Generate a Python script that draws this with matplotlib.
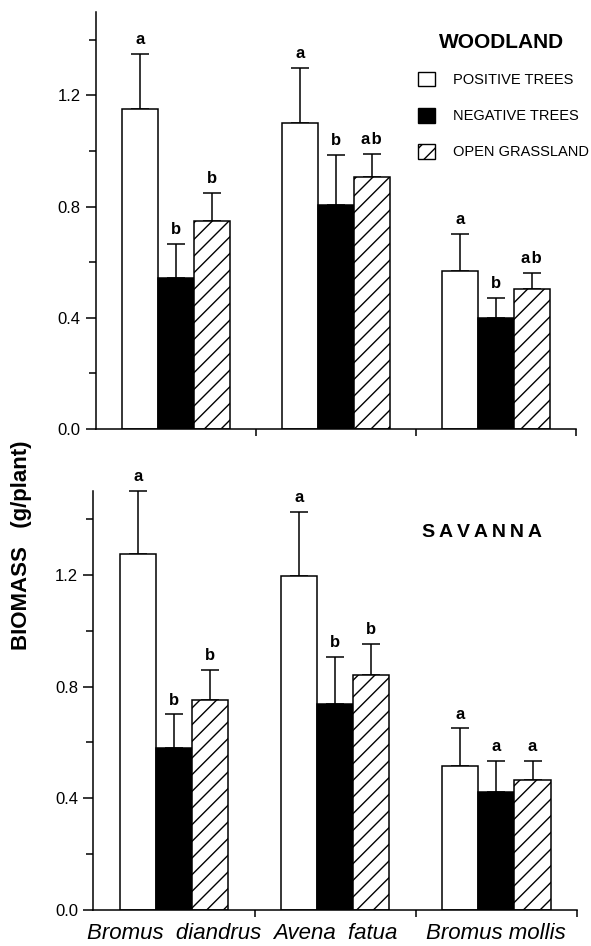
import numpy as np
import matplotlib
matplotlib.use("Agg")
import matplotlib.pyplot as plt
from matplotlib.patches import Patch
from matplotlib import font_manager

plt.rcParams['font.family'] = ['Liberation Sans', 'DejaVu Sans']
plt.rcParams['hatch.linewidth'] = 1.0

species = ["Bromus  diandrus", "Avena  fatua", "Bromus mollis"]
treatments = ["POSITIVE TREES", "NEGATIVE TREES", "OPEN GRASSLAND"]

# woodland
wood_pos = [1.15, 1.10, 0.57]
wood_pos_err = [0.20, 0.20, 0.13]
wood_neg = [0.545, 0.805, 0.40]
wood_neg_err = [0.12, 0.18, 0.07]
wood_open = [0.75, 0.905, 0.505]
wood_open_err = [0.10, 0.085, 0.056]
wood_pos_let = ["a", "a", "a"]
wood_neg_let = ["b", "b", "b"]
wood_open_let = ["b", "a\u200ab", "a\u200ab"]

# savanna
sav_pos = [1.275, 1.195, 0.515]
sav_pos_err = [0.225, 0.23, 0.135]
sav_neg = [0.58, 0.737, 0.423]
sav_neg_err = [0.12, 0.17, 0.11]
sav_open = [0.753, 0.843, 0.467]
sav_open_err = [0.105, 0.11, 0.066]
sav_pos_let = ["a", "a", "a"]
sav_neg_let = ["b", "b", "a"]
sav_open_let = ["b", "b", "a"]

styles = [dict(facecolor="white", hatch=None),
          dict(facecolor="black", hatch=None),
          dict(facecolor="white", hatch="//")]

bw = 0.225
centers = np.arange(3) + 0.5

# narrow font for the legend if we have one
names = {f.name for f in font_manager.fontManager.ttflist}
if "Liberation Sans Narrow" in names:
    leg_prop = {"family": "Liberation Sans Narrow", "size": 12}
else:
    leg_prop = {"family": "Liberation Sans", "size": 10.5}


def panel(ax, series, errs, letters, title, title_xy, spaced=False):
    for i in range(3):
        x = centers + (i - 1) * bw
        ax.bar(x, series[i], width=bw, edgecolor="black", linewidth=1.1,
               zorder=2, **styles[i])
        eb = ax.errorbar(x, series[i], yerr=[np.zeros(3), errs[i]], fmt="none",
                         ecolor="black", elinewidth=1.1, capsize=6.5,
                         capthick=1.1, zorder=1)
        for art in eb.get_children():
            art.set_clip_on(False)
        for xx, top, lab in zip(x, np.add(series[i], errs[i]), letters[i]):
            ax.annotate(lab, (xx, top), xytext=(0, 5), textcoords="offset points",
                        ha="center", va="bottom", fontsize=12, fontweight="bold")
    ax.set_xlim(0, 3)
    ax.set_ylim(0, 1.5)
    ax.spines["top"].set_visible(False)
    ax.spines["right"].set_visible(False)
    ax.spines["left"].set_linewidth(1.1)
    ax.spines["bottom"].set_linewidth(1.1)
    ax.set_yticks([0.0, 0.4, 0.8, 1.2])
    ax.set_yticklabels(["0.0", "0.4", "0.8", "1.2"], fontsize=12)
    ax.set_yticks([0.2, 0.6, 1.0, 1.4], minor=True)
    ax.tick_params(axis="y", which="major", length=7, width=1.1, direction="out", pad=4)
    ax.tick_params(axis="y", which="minor", length=5, width=1.1, direction="out")
    ax.set_xticks([1, 2, 3])
    ax.set_xticklabels([])
    ax.tick_params(axis="x", which="major", length=5, width=1.1, direction="out")
    ax.text(title_xy[0], title_xy[1], title, transform=ax.transAxes,
            ha="center", va="center", fontsize=15 if not spaced else 14,
            fontweight="bold")


fig = plt.figure(figsize=(5.91, 9.46), dpi=100)
ax1 = fig.add_axes([0.162, 0.5465, 0.812, 0.4408])
ax2 = fig.add_axes([0.158, 0.038, 0.818, 0.443])

panel(ax1, [wood_pos, wood_neg, wood_open],
      [wood_pos_err, wood_neg_err, wood_open_err],
      [wood_pos_let, wood_neg_let, wood_open_let],
      "WOODLAND", (0.846, 0.926))
panel(ax2, [sav_pos, sav_neg, sav_open],
      [sav_pos_err, sav_neg_err, sav_open_err],
      [sav_pos_let, sav_neg_let, sav_open_let],
      "S\u2009A\u2009V\u2009A\u2009N\u2009N\u2009A", (0.804, 0.90), spaced=True)

ax2.set_xticks(centers, minor=True)
ax2.set_xticklabels(species, minor=True, fontsize=16, style="italic")
ax2.tick_params(axis="x", which="minor", length=0, pad=9)

handles = [Patch(edgecolor="black", linewidth=1.0, **s) for s in styles]
fs = leg_prop["size"] * 100 / 72
ax1.legend(handles, treatments, loc="upper left", bbox_to_anchor=(0.671, 0.857),
           frameon=False, handlelength=17 / fs, handleheight=17 / fs,
           handletextpad=18 / fs, labelspacing=21 / fs, borderpad=0,
           borderaxespad=0, prop=leg_prop)

fig.text(0.037, 0.424, "BIOMASS   (g/plant)", rotation=90, ha="center",
         va="center", fontsize=16, fontweight="bold")

fig.savefig("out.png", dpi=100)
